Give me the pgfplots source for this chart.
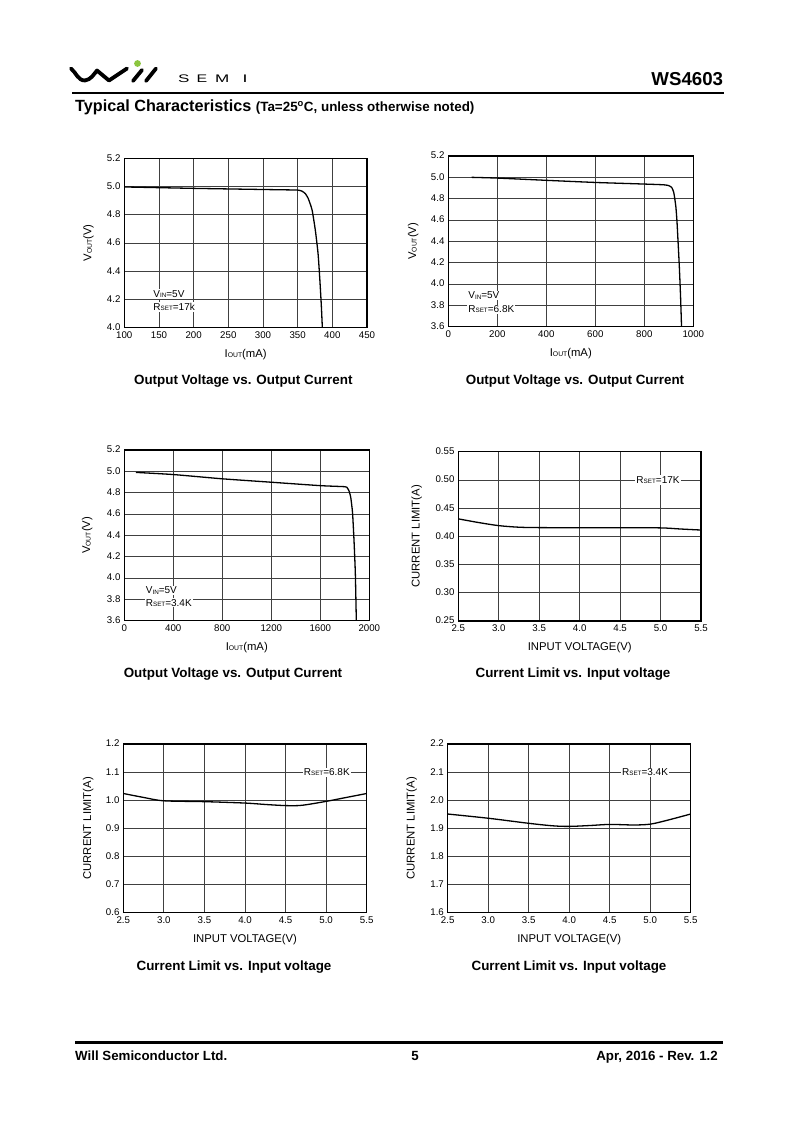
\documentclass[border=0pt]{standalone}
\usepackage{fontspec}
\setmainfont{Liberation Sans}
\usepackage{pgfplots}
\pgfplotsset{compat=1.18}
\definecolor{logogreen}{RGB}{140,198,63}
\newcommand{\sub}[1]{\raisebox{-0.5pt}{\fontsize{6.8}{7}\selectfont #1}}
\newcommand{\asub}[1]{\raisebox{-0.3pt}{\fontsize{6.3}{7}\selectfont #1}}
\tikzset{ann/.style={fill=white, inner sep=1pt, font=\fontsize{10}{11}\selectfont}}
\pgfplotsset{
  ds/.style={
    scale only axis,
    axis line style={line width=1.1pt, black},
    grid=major,
    major grid style={line width=0.75pt, black!75},
    major tick length=0pt,
    tick label style={font=\fontsize{9.7}{10}\selectfont},
    typeset ticklabels with strut,
    /pgf/number format/assume math mode=true,
    /pgf/number format/1000 sep={},
    xticklabel style={yshift=0pt},
    yticklabel style={xshift=-0.3pt, yshift=-0.9pt},
    label style={font=\fontsize{11.3}{12}\selectfont},
    xlabel style={at={(axis description cs:0.5,0)},anchor=center,yshift=-26.6pt},
    ylabel style={anchor=center},
  },
  crv/.style={line width=1.3pt, black, no markers},
  vinx/.style={xtick={2.5,3.0,3.5,4.0,4.5,5.0,5.5}, xticklabels={2.5,3.0,3.5,4.0,4.5,5.0,5.5}},
}
\begin{document}
\begin{tikzpicture}
\useasboundingbox (0pt,0pt) rectangle (800pt,-1131pt);
\fill[white] (0pt,0pt) rectangle (800pt,-1131pt);

% ---------- header ----------
\draw[line width=3.8pt, line cap=round, line join=round]
  (71pt,-68.5pt) to[out=-40,in=180] (85pt,-80.5pt) to[out=10,in=-130] (97pt,-70.5pt)
  -- (109pt,-80.5pt) -- (127pt,-68.5pt);
\draw[line width=3.8pt, line cap=round] (133pt,-81pt) -- (142pt,-70pt);
\draw[line width=3.8pt, line cap=round] (146pt,-81pt) -- (156pt,-68.5pt);
\fill[logogreen] (137.5pt,-63.5pt) circle (3.4pt);
\node[anchor=base west, inner sep=0pt] at (178pt,-82.5pt) {\fontsize{11}{11}\selectfont\scalebox{1.55}[1]{S}};
\node[anchor=base west, inner sep=0pt] at (196.5pt,-82.5pt) {\fontsize{11}{11}\selectfont\scalebox{1.45}[1]{E}};
\node[anchor=base west, inner sep=0pt] at (215pt,-82.5pt) {\fontsize{11}{11}\selectfont\scalebox{1.55}[1]{M}};
\node[anchor=base west, inner sep=0pt] at (242.5pt,-82.5pt) {\fontsize{11}{11}\selectfont\scalebox{1.6}[1]{I}};
\node[anchor=base east, inner sep=0pt] at (723.3pt,-86pt) {\fontsize{18.7}{20}\selectfont\bfseries WS4603};
\draw[line width=2.2pt] (72pt,-93pt) -- (724pt,-93pt);
\node[anchor=base west, inner sep=0pt] at (75pt,-111.5pt)
  {\bfseries\fontsize{16.2}{17}\selectfont Typical Characteristics \fontsize{13.4}{14}\selectfont(Ta=25\textsuperscript{o}C, unless otherwise noted)};

% ---------- footer ----------
\draw[line width=2.4pt] (75pt,-1042.5pt) -- (723pt,-1042.5pt);
\node[anchor=base west, inner sep=0pt] at (75pt,-1060pt) {\bfseries\fontsize{13.3}{14}\selectfont Will Semiconductor Ltd.};
\node[anchor=base, inner sep=0pt] at (415pt,-1060pt) {\bfseries\fontsize{13.3}{14}\selectfont 5};
\node[anchor=base east, inner sep=0pt] at (718pt,-1060pt) {\bfseries\fontsize{13.3}{14}\selectfont Apr, 2016 - Rev. 1.2};

% ---------- plot 1 ----------
\begin{axis}[ds, at={(124.3pt,-327.7pt)}, anchor=south west,
  width=242.7pt, height=169.4pt,
  xmin=100, xmax=450, ymin=4.0, ymax=5.2,
  xtick={100,150,200,250,300,350,400,450},
  xticklabels={100,150,200,250,300,350,400,450},
  ytick={4.0,4.2,4.4,4.6,4.8,5.0,5.2},
  yticklabels={4.0,4.2,4.4,4.6,4.8,5.0,5.2},
  xlabel={I\sub{OUT}(mA)}, ylabel={V\sub{OUT}(V)},
  ylabel style={at={(axis description cs:-0.148,0.5)}}]
\addplot[crv, smooth, tension=0.35] coordinates {
(100,4.997) (150,4.992) (200,4.987) (250,4.983) (300,4.979) (340,4.976)
(350,4.975) (356,4.968) (361,4.950) (365,4.918) (368,4.878) (371,4.830)
(375.5,4.69) (379.4,4.526) (382,4.34) (384.2,4.15) (385.6,4.0)};
\node[ann, anchor=west] at (rel axis cs:0.115,0.199) {V\asub{IN}=5V};
\node[ann, anchor=west] at (rel axis cs:0.115,0.122) {R\asub{SET}=17k};
\end{axis}
\node[anchor=base] at (243.3pt,-384pt) {\bfseries\fontsize{13.4}{14}\selectfont Output Voltage vs. Output Current};

% ---------- plot 2 ----------
\begin{axis}[ds, at={(448.3pt,-326.7pt)}, anchor=south west,
  width=245pt, height=170.7pt,
  xmin=0, xmax=1000, ymin=3.6, ymax=5.2,
  xtick={0,200,400,600,800,1000}, xticklabels={0,200,400,600,800,1000},
  ytick={3.6,3.8,4.0,4.2,4.4,4.6,4.8,5.0,5.2},
  yticklabels={3.6,3.8,4.0,4.2,4.4,4.6,4.8,5.0,5.2},
  xlabel={I\sub{OUT}(mA)}, ylabel={V\sub{OUT}(V)},
  ylabel style={at={(axis description cs:-0.143,0.5)}}]
\addplot[crv, smooth, tension=0.35] coordinates {
(95,5.000) (200,4.993) (400,4.972) (600,4.952) (800,4.937) (880,4.930)
(900,4.922) (912,4.905) (920,4.86) (925,4.79) (929,4.72) (933,4.6)
(936,4.475) (943,4.16) (948,3.88) (952,3.6)};
\node[ann, anchor=west] at (rel axis cs:0.077,0.182) {V\asub{IN}=5V};
\node[ann, anchor=west] at (rel axis cs:0.077,0.102) {R\asub{SET}=6.8K};
\end{axis}
\node[anchor=base] at (575pt,-384pt) {\bfseries\fontsize{13.4}{14}\selectfont Output Voltage vs. Output Current};

% ---------- plot 3 ----------
\begin{axis}[ds, at={(124.3pt,-620.7pt)}, anchor=south west,
  width=245pt, height=170.7pt,
  xmin=0, xmax=2000, ymin=3.6, ymax=5.2,
  xtick={0,400,800,1200,1600,2000}, xticklabels={0,400,800,1200,1600,2000},
  ytick={3.6,3.8,4.0,4.2,4.4,4.6,4.8,5.0,5.2},
  yticklabels={3.6,3.8,4.0,4.2,4.4,4.6,4.8,5.0,5.2},
  xlabel={I\sub{OUT}(mA)}, ylabel={V\sub{OUT}(V)},
  ylabel style={at={(axis description cs:-0.151,0.5)}}]
\addplot[crv, smooth, tension=0.35] coordinates {
(95,4.99) (400,4.97) (800,4.93) (1200,4.898) (1600,4.866) (1800,4.856)
(1820,4.845) (1835,4.815) (1848,4.76) (1857,4.68) (1864,4.6) (1875,4.356)
(1886,4.044) (1894,3.6)};
\node[ann, anchor=west] at (rel axis cs:0.083,0.176) {V\asub{IN}=5V};
\node[ann, anchor=west] at (rel axis cs:0.083,0.105) {R\asub{SET}=3.4K};
\end{axis}
\node[anchor=base] at (233pt,-677.8pt) {\bfseries\fontsize{13.4}{14}\selectfont Output Voltage vs. Output Current};

% ---------- plot 4 ----------
\begin{axis}[ds, vinx, at={(458.3pt,-621pt)}, anchor=south west,
  width=242.7pt, height=169.3pt,
  xmin=2.5, xmax=5.5, ymin=0.25, ymax=0.55,
  ytick={0.25,0.30,0.35,0.40,0.45,0.50,0.55},
  yticklabels={0.25,0.30,0.35,0.40,0.45,0.50,0.55},
  xlabel={INPUT VOLTAGE(V)}, ylabel={CURRENT LIMIT(A)},
  ylabel style={at={(axis description cs:-0.1714,0.5)}}]
\addplot[crv, smooth] coordinates {
(2.5,0.431) (2.75,0.4245) (3.0,0.419) (3.25,0.4162) (3.5,0.4155) (4.0,0.4153)
(4.5,0.4152) (5.0,0.415) (5.25,0.413) (5.5,0.4112)};
\node[ann] at (rel axis cs:0.823,0.833) {R\asub{SET}=17K};
\end{axis}
\node[anchor=base] at (573pt,-677.8pt) {\bfseries\fontsize{13.4}{14}\selectfont Current Limit vs. Input voltage};

% ---------- plot 5 ----------
\begin{axis}[ds, vinx, at={(123.3pt,-912.7pt)}, anchor=south west,
  width=243.4pt, height=168.7pt,
  xmin=2.5, xmax=5.5, ymin=0.6, ymax=1.2,
  ytick={0.6,0.7,0.8,0.9,1.0,1.1,1.2},
  yticklabels={0.6,0.7,0.8,0.9,1.0,1.1,1.2},
  xlabel={INPUT VOLTAGE(V)}, ylabel={CURRENT LIMIT(A)},
  ylabel style={at={(axis description cs:-0.1438,0.5)}}]
\addplot[crv, smooth] coordinates {
(2.5,1.024) (2.75,1.010) (3.0,0.998) (3.5,0.995) (4.0,0.990) (4.25,0.985)
(4.5,0.981) (4.7,0.982) (5.0,0.996) (5.25,1.010) (5.5,1.024)};
\node[ann] at (rel axis cs:0.836,0.833) {R\asub{SET}=6.8K};
\end{axis}
\node[anchor=base] at (234pt,-970.8pt) {\bfseries\fontsize{13.4}{14}\selectfont Current Limit vs. Input voltage};

% ---------- plot 6 ----------
\begin{axis}[ds, vinx, at={(447.7pt,-912.7pt)}, anchor=south west,
  width=243pt, height=168.7pt,
  xmin=2.5, xmax=5.5, ymin=1.6, ymax=2.2,
  ytick={1.6,1.7,1.8,1.9,2.0,2.1,2.2},
  yticklabels={1.6,1.7,1.8,1.9,2.0,2.1,2.2},
  xlabel={INPUT VOLTAGE(V)}, ylabel={CURRENT LIMIT(A)},
  ylabel style={at={(axis description cs:-0.148,0.5)}}]
\addplot[crv, smooth] coordinates {
(2.5,1.951) (3.0,1.936) (3.5,1.918) (3.8,1.909) (4.0,1.907) (4.25,1.910)
(4.5,1.914) (4.8,1.912) (5.0,1.915) (5.2,1.928) (5.5,1.951)};
\node[ann] at (rel axis cs:0.812,0.833) {R\asub{SET}=3.4K};
\end{axis}
\node[anchor=base] at (569pt,-970.8pt) {\bfseries\fontsize{13.4}{14}\selectfont Current Limit vs. Input voltage};
\end{tikzpicture}
\end{document}
